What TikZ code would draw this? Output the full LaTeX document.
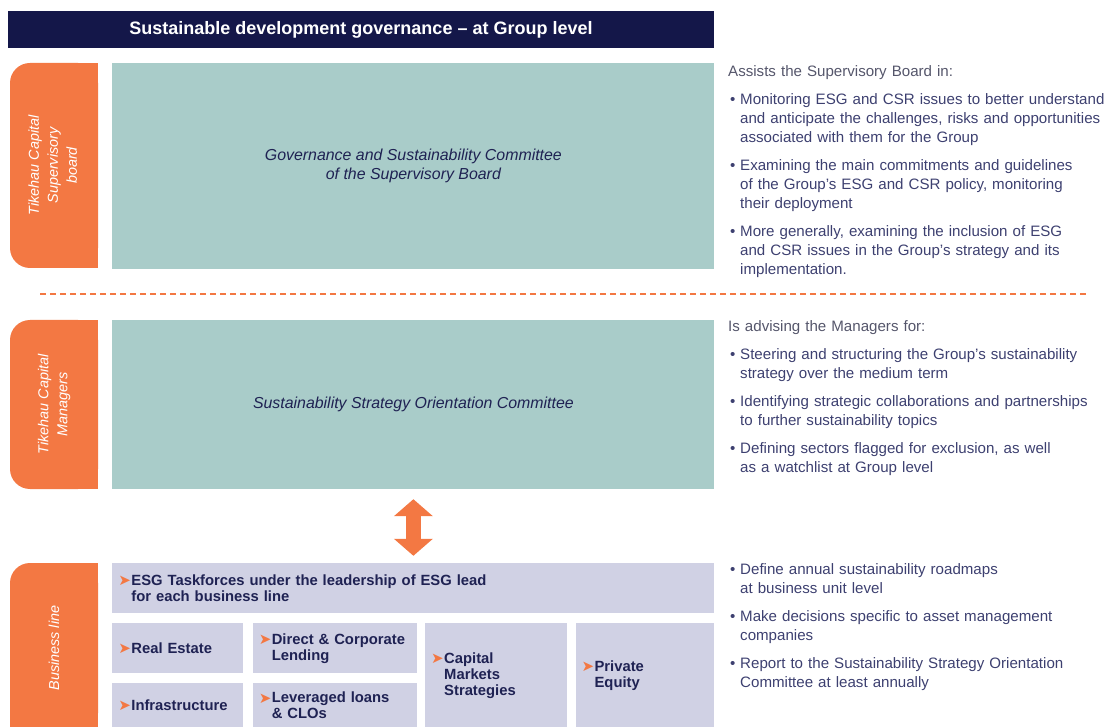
\documentclass[tikz,border=0pt]{standalone}
\usepackage{fontspec}
\setmainfont{Liberation Sans}
\newfontfamily\dingfont{DejaVu Sans}
\usetikzlibrary{backgrounds,positioning,arrows.meta}

\definecolor{navy}{HTML}{141749}
\definecolor{tikorange}{HTML}{F37843}
\definecolor{committeeteal}{HTML}{A9CCC9}
\definecolor{lavender}{HTML}{D0D1E4}
\definecolor{infotext}{HTML}{3D4070}
\definecolor{infohead}{HTML}{55566B}
\definecolor{boxtext}{HTML}{1F2253}

\newcommand{\tick}{\makebox[13pt][l]{\raisebox{-0.5pt}{\dingfont\fontsize{15}{15}\selectfont\color{tikorange}➤}}}
\newcommand{\tickhang}{\hangindent=13pt\hangafter=1\tick}
\newcommand{\bul}{\hangindent=12pt\hangafter=1\makebox[12pt][l]{\hspace{2pt}\textbullet}}

\begin{document}
\begin{tikzpicture}[x=1pt,y=1pt]
    \tikzstyle{banner} = [fill=navy, text=white, minimum width=706pt,
        minimum height=37pt, font=\fontsize{18}{20}\selectfont\bfseries]
    \tikzstyle{tab} = [fill=tikorange, rounded corners=20pt, text=white,
        minimum width=88pt, inner sep=0pt,
        font=\fontsize{14.4}{19}\selectfont\itshape]
    \tikzstyle{committee} = [fill=committeeteal, text=boxtext, align=center,
        minimum width=602pt, font=\fontsize{15.9}{19}\selectfont\itshape]
    \tikzstyle{unit} = [fill=lavender, text=boxtext, align=left,
        inner xsep=6pt, inner ysep=0pt,
        font=\fontsize{14.8}{16}\selectfont\bfseries]
    \tikzstyle{info} = [text=infotext, text width=420pt, inner sep=0pt,
        anchor=north west, align=left, font=\fontsize{15.1}{19}\selectfont]
    \tikzstyle{updown} = [draw=tikorange, line width=15pt,
        {Triangle[width=38pt,length=17pt]}-{Triangle[width=38pt,length=17pt]}]
    \tikzstyle{cut} = [draw=tikorange, line width=2pt,
        dash pattern=on 6pt off 4pt]

    \useasboundingbox (0,0) rectangle (1106,-727);

    % Title
    \node[banner] (title) at (361,-29.5) {Sustainable development
        governance -- at Group level};

    % Supervisory board
    \node[tab, minimum height=205pt] (suptab) at (54,-165.5)
        {\rotatebox{90}{\begin{tabular}{@{}c@{}}Tikehau Capital\\
        Supervisory\\board\end{tabular}}};
    \node[committee, minimum height=206pt, right=14pt of suptab.north east,
        anchor=north west] (supcom) {Governance and Sustainability Committee\\
        of the Supervisory Board};
    \node[info] (supinfo) at (728,-65.5) {\setlength{\parskip}{9pt}%
        {\color{infohead}Assists the Supervisory Board in:}\par
        \bul Monitoring ESG and CSR issues to better understand\newline
        and anticipate the challenges, risks and opportunities\newline
        associated with them for the Group\par
        \bul Examining the main commitments and guidelines\newline
        of the Group's ESG and CSR policy, monitoring\newline
        their deployment\par
        \bul More generally, examining the inclusion of ESG\newline
        and CSR issues in the Group's strategy and its\newline
        implementation.\par};

    \draw[cut] (40,-294) -- (1088,-294);

    % Managers
    \node[tab, minimum height=169pt] (mgrtab) at (54,-404.5)
        {\rotatebox{90}{\begin{tabular}{@{}c@{}}Tikehau Capital\\
        Managers\end{tabular}}};
    \node[committee, minimum height=169pt, right=14pt of mgrtab.north east,
        anchor=north west] (mgrcom) {Sustainability Strategy Orientation
        Committee};
    \node[info] (mgrinfo) at (728,-320.5) {\setlength{\parskip}{9pt}%
        {\color{infohead}Is advising the Managers for:}\par
        \bul Steering and structuring the Group's sustainability\newline
        strategy over the medium term\par
        \bul Identifying strategic collaborations and partnerships\newline
        to further sustainability topics\par
        \bul Defining sectors flagged for exclusion, as well\newline
        as a watchlist at Group level\par};

    % Business line
    \node[tab, minimum height=170pt] (bltab) at (54,-648)
        {\rotatebox{90}{Business line}};
    \node[unit, text width=590pt, minimum height=50pt,
        right=14pt of bltab.north east, anchor=north west] (esg)
        {\tickhang ESG Taskforces under the leadership of ESG lead\newline
        for each business line\par};
    \node[unit, text width=119pt, minimum height=50pt,
        below=10pt of esg.south west, anchor=north west] (realestate)
        {\tickhang Real Estate\par};
    \node[unit, text width=152pt, minimum height=50pt,
        right=9pt of realestate] (lending)
        {\tickhang Direct \& Corporate\newline Lending\par};
    \node[unit, text width=130pt, minimum height=104pt,
        right=8pt of lending.north east, anchor=north west] (capmarkets)
        {\tickhang Capital\newline Markets\newline Strategies\par};
    \node[unit, text width=126pt, minimum height=104pt,
        right=8pt of capmarkets.north east, anchor=north west] (privequity)
        {\tickhang Private\newline Equity\par};
    \node[unit, text width=119pt, minimum height=45pt,
        below=9pt of realestate] (infra) {\tickhang Infrastructure\par};
    \node[unit, text width=152pt, minimum height=45pt,
        below=9pt of lending] (leveraged)
        {\tickhang Leveraged loans\newline \& CLOs\par};
    \node[info] (blinfo) at (728,-563.5) {\setlength{\parskip}{9pt}%
        \bul Define annual sustainability roadmaps\newline
        at business unit level\par
        \bul Make decisions specific to asset management\newline
        companies\par
        \bul Report to the Sustainability Strategy Orientation\newline
        Committee at least annually\par};

    \draw[updown, shorten <=10pt, shorten >=7pt] (mgrcom) -- (esg);

    \begin{scope}[on background layer]
      \fill[tikorange] (suptab.north) rectangle (suptab.south east);
      \fill[tikorange] (mgrtab.north) rectangle (mgrtab.south east);
      \fill[tikorange] (bltab.north) rectangle (bltab.south east);
      \fill[tikorange] (bltab.west) rectangle (bltab.south east);
    \end{scope}
\end{tikzpicture}
\end{document}
